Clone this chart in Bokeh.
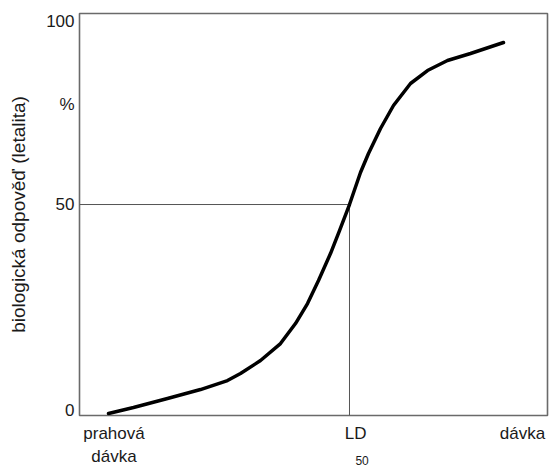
from bokeh.plotting import figure
from bokeh.models import Range1d, FixedTicker, LinearAxis
from bokeh.embed import file_html
from bokeh.resources import INLINE

# dose (arbitrary units, 0-100 across the frame) and biological response (%)
dose = [6.20, 11.54, 18.80, 25.85, 31.62, 34.40, 38.68, 42.95, 46.15, 48.72,
        51.07, 53.63, 55.56, 57.69, 60.04, 61.75, 64.32, 67.09, 70.73, 74.36,
        78.63, 83.55, 90.60]
response = [-0.73, 0.73, 2.91, 5.10, 7.28, 8.98, 12.14, 16.26, 21.12, 25.97,
            31.55, 38.11, 43.69, 50.0, 57.77, 62.38, 68.45, 74.03, 79.37, 82.52,
            84.95, 86.65, 89.32]

ld50_dose = 57.69
ld50_response = 50.0

# x labels: first row, second row, LD subscript row
x_tick_pos = [7.37, 59.0, 94.66]
x_tick_labels = ["prahová", "LD", "dávka"]
x_row2_pos = [7.37]
x_row2_labels = ["dávka"]
x_sub_pos = [60.39]
x_sub_labels = ["50"]

y_tick_pos = [0, 50, 74.3, 94.4]
y_tick_labels = ["0", "50", "%", "100"]
y_title = "biologická odpověď (letalita)"

x_min, x_max = 0, 100
y_min, y_max = -1.2, 96.36

FONT = "Liberation Sans"
TXT = "#1a1a1a"

p = figure(width=549, height=468, output_backend="svg", toolbar_location=None,
           x_range=Range1d(x_min, x_max), y_range=Range1d(y_min, y_max),
           min_border_left=79, min_border_right=2, min_border_top=13,
           min_border_bottom=53)
p.background_fill_color = "white"
p.border_fill_color = "white"
p.outline_line_color = "#6a6a6a"
p.outline_line_width = 1.6
p.xgrid.visible = False
p.ygrid.visible = False

# LD50 guide lines
p.line([x_min, ld50_dose], [ld50_response, ld50_response], line_color="#555555", line_width=1)
p.line([ld50_dose, ld50_dose], [ld50_response, y_min], line_color="#555555", line_width=1)

# dose-response curve
p.line(dose, response, line_color="black", line_width=3.5, line_join="round", line_cap="round")


def style_axis(ax, size, standoff):
    ax.axis_line_color = None
    ax.major_tick_line_color = None
    ax.minor_tick_line_color = None
    ax.major_tick_out = 0
    ax.major_tick_in = 0
    ax.minor_tick_out = 0
    ax.minor_tick_in = 0
    ax.major_label_standoff = standoff
    ax.major_label_text_font = FONT
    ax.major_label_text_font_size = size
    ax.major_label_text_color = TXT


xa = p.xaxis[0]
xa.ticker = FixedTicker(ticks=x_tick_pos)
xa.major_label_overrides = {t: l for t, l in zip(x_tick_pos, x_tick_labels)}
style_axis(xa, "17px", 8)

xa2 = LinearAxis(ticker=FixedTicker(ticks=x_row2_pos),
                 major_label_overrides={t: l for t, l in zip(x_row2_pos, x_row2_labels)})
style_axis(xa2, "17px", 1)
p.add_layout(xa2, "below")

xa3 = LinearAxis(ticker=FixedTicker(ticks=x_sub_pos),
                 major_label_overrides={t: l for t, l in zip(x_sub_pos, x_sub_labels)})
style_axis(xa3, "12px", -13)
p.add_layout(xa3, "below")

ya = p.yaxis[0]
ya.ticker = FixedTicker(ticks=y_tick_pos)
ya.major_label_overrides = {t: l for t, l in zip(y_tick_pos, y_tick_labels)}
style_axis(ya, "17px", 5)
ya.axis_label = y_title
ya.axis_label_text_font = FONT
ya.axis_label_text_font_size = "19px"
ya.axis_label_text_font_style = "normal"
ya.axis_label_text_color = TXT
ya.axis_label_standoff = 14

open("out.html", "w").write(file_html(p, INLINE))
